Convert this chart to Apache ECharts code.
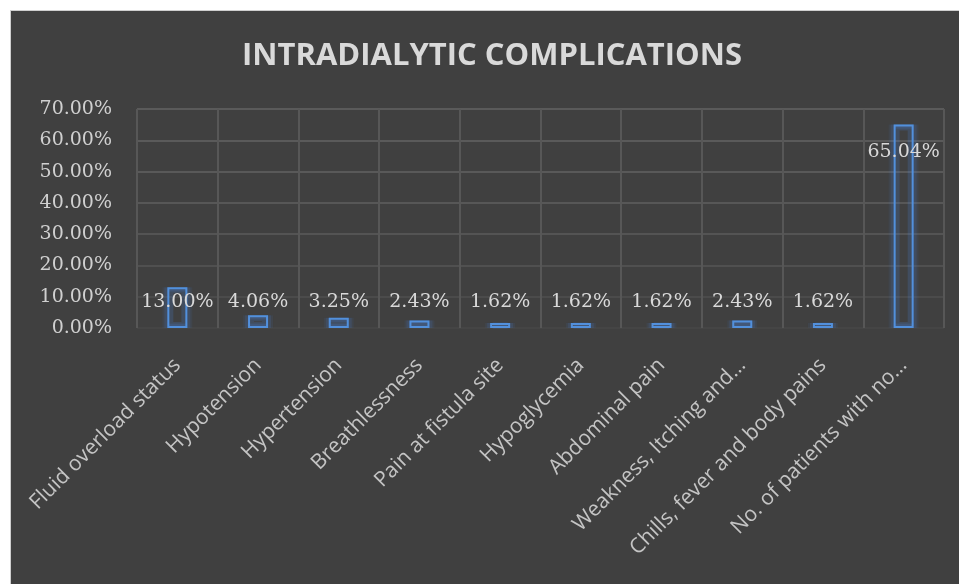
<!DOCTYPE html>
<html>
<head>
    <meta charset="utf-8">
    <title>Intradialytic complications</title>
    <script src="https://cdn.jsdelivr.net/npm/echarts@6/dist/echarts.min.js"></script>
    <style>
        html, body { margin: 0; padding: 0; background: #ffffff; }
        #frame {
            position: absolute; left: 10px; top: 10px; width: 949px; height: 574px;
            border-left: 1px solid #cfcfcf; border-top: 1px solid #cfcfcf;
            background: #404040;
        }
        #main { width: 949px; height: 574px; }
    </style>
</head>
<body>
<div id="frame"><div id="main"></div></div>
<script>
    // 数据
    var categories = ['Fluid overload status', 'Hypotension', 'Hypertension', 'Breathlessness',
        'Pain at fistula site', 'Hypoglycemia', 'Abdominal pain', 'Weakness, Itching and\u2026',
        'Chills, fever and body pains', 'No. of patients with no\u2026'];
    var values = [13.00, 4.06, 3.25, 2.43, 1.62, 1.62, 1.62, 2.43, 1.62, 65.04];
    var titleText = 'INTRADIALYTIC COMPLICATIONS';

    var myChart = echarts.init(document.getElementById('main'));

    var serif = 'DejaVu Serif';
    var sans = 'Open Sans';

    var barData = values.map(function (v) {
        var big = v > 50;
        return {
            value: v,
            label: {
                position: big ? 'insideTop' : 'insideBottom',
                distance: big ? 18 : 16
            }
        };
    });

    // 隐藏的类目轴，让每层发光柱子各自居中
    function hiddenAxis() {
        return { type: 'category', data: categories, show: false };
    }

    // 发光效果：几层更宽的半透明边框
    function glowSeries(axisIdx, barW, lineW, alpha) {
        return {
            type: 'bar',
            xAxisIndex: axisIdx,
            data: values,
            barWidth: barW,
            silent: true,
            itemStyle: {
                color: 'rgba(0,0,0,0)',
                borderColor: 'rgba(70,130,220,' + alpha + ')',
                borderWidth: lineW
            },
            label: { show: false }
        };
    }

    var option = {
        backgroundColor: '#404040',
        animation: false,
        title: {
            text: titleText,
            left: 476,
            textAlign: 'center',
            top: 25,
            textStyle: {
                fontFamily: sans,
                fontWeight: 'bold',
                fontSize: 31,
                color: '#d9d9d9'
            }
        },
        grid: {
            left: 126,
            right: 16,
            top: 98,
            bottom: 257,
            containLabel: false
        },
        xAxis: [{
            type: 'category',
            data: categories,
            axisLine: { show: false },
            axisTick: { show: false },
            splitLine: {
                show: true,
                lineStyle: { color: '#575757', width: 2 }
            },
            axisLabel: {
                rotate: 45,
                margin: 34,
                interval: 0,
                color: '#c4c4c4',
                fontFamily: sans,
                fontSize: 21
            }
        }, hiddenAxis(), hiddenAxis(), hiddenAxis()],
        yAxis: {
            type: 'value',
            min: 0,
            max: 70,
            interval: 10,
            axisLine: { show: false },
            axisTick: { show: false },
            splitLine: {
                lineStyle: {
                    color: ['#454545', '#4b4b4b', '#505050', '#545454', '#575757', '#595959', '#5a5a5a', '#5a5a5a'],
                    width: 2
                }
            },
            axisLabel: {
                margin: 25,
                color: '#d0d0d0',
                fontFamily: serif,
                fontSize: 19,
                formatter: function (val) {
                    return val.toFixed(2) + '%';
                }
            }
        },
        series: [
            glowSeries(1, 30, 5, 0.08),
            glowSeries(2, 26, 4, 0.14),
            glowSeries(3, 20, 6, 0.2),
            {
                type: 'bar',
                xAxisIndex: 0,
                data: barData,
                barWidth: 20,
                itemStyle: {
                    color: 'rgba(0,0,0,0)',
                    borderColor: '#5290dc',
                    borderWidth: 2
                },
                label: {
                    show: true,
                    color: '#d9d9d9',
                    fontFamily: serif,
                    fontSize: 19,
                    formatter: function (p) {
                        return p.value.toFixed(2) + '%';
                    }
                }
            }
        ]
    };

    option && myChart.setOption(option);
</script>
</body>
</html>
